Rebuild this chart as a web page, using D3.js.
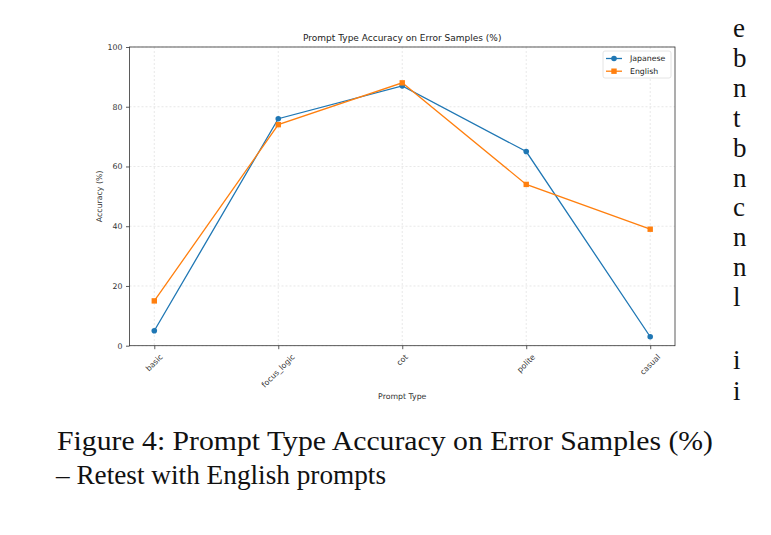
<!DOCTYPE html>
<html><head><meta charset="utf-8">
<script src="https://cdn.jsdelivr.net/npm/d3@7"></script>
<style>body{margin:0;background:#fff}svg{display:block}</style>
</head><body>
<script>
const categories = ["basic","focus_logic","cot","polite","casual"];
const japanese = [5,76,87,65,3];
const english = [15,74,88,54,39];
const yTicks = [0,20,40,60,80,100];
const seriesNames = ["Japanese","English"];
const colors = ["#1f77b4","#ff7f0e"];
const rightLetters = ["e","b","n","t","b","n","c","n","n","l","i","i"];
const rightLetterRows = [0,1,2,3,4,5,6,7,8,9,11.1,12.15];

const W=771,H=535;
const svg=d3.select("body").append("svg").attr("width",W).attr("height",H);
const L=129.5,R=675,T=47,B=345.7;
const x=d3.scaleLinear().domain([-0.2,4.2]).range([L,R]);
const y=d3.scaleLinear().domain([0,100]).range([B,T]);
const font="DejaVu Sans, sans-serif";
const grid="#d8d8d8";

// grid
svg.append("g").selectAll("line").data(categories).join("line")
 .attr("x1",(d,i)=>x(i)).attr("x2",(d,i)=>x(i)).attr("y1",T).attr("y2",B)
 .attr("stroke",grid).attr("stroke-width",0.6).attr("stroke-dasharray","2,2");
svg.append("g").selectAll("line").data(yTicks).join("line")
 .attr("x1",L).attr("x2",R).attr("y1",d=>y(d)).attr("y2",d=>y(d))
 .attr("stroke",grid).attr("stroke-width",0.6).attr("stroke-dasharray","2,2");

// axes
const ya=d3.axisLeft(y).tickValues(yTicks).tickSize(3.5).tickPadding(3.5);
const yg=svg.append("g").attr("transform",`translate(${L},0)`).call(ya);
yg.select(".domain").remove();
yg.selectAll("line").attr("stroke","#333").attr("stroke-width",0.8);
yg.selectAll("text").attr("font-family",font).attr("font-size",7.8).attr("fill","#333");

const xa=d3.axisBottom(x).tickValues(d3.range(categories.length)).tickSize(3.5).tickFormat(()=>"");
const xg=svg.append("g").attr("transform",`translate(0,${B})`).call(xa);
xg.select(".domain").remove();
xg.selectAll("line").attr("stroke","#333").attr("stroke-width",0.8);

// x labels rotated 45, centered
const fs=7.8;
categories.forEach((c,i)=>{
  const t=svg.append("text").text(c).attr("font-family",font).attr("font-size",fs).attr("fill","#333")
    .attr("text-anchor","middle").attr("dominant-baseline","central");
  const w=t.node().getComputedTextLength();
  const h=(w+fs*1.1)*Math.SQRT1_2;
  const cx=x(i), cy=B+3.5+3.5+h/2;
  t.attr("transform",`translate(${cx},${cy}) rotate(-45)`);
});

// frame
svg.append("rect").attr("x",L).attr("y",T).attr("width",R-L).attr("height",B-T)
 .attr("fill","none").attr("stroke","#333").attr("stroke-width",0.8);

// lines
const line=d3.line().x((d,i)=>x(i)).y(d=>y(d));
[japanese,english].forEach((s,k)=>{
  svg.append("path").datum(s).attr("d",line).attr("fill","none").attr("stroke",colors[k]).attr("stroke-width",1.3);
});
svg.append("g").selectAll("circle").data(japanese).join("circle")
 .attr("cx",(d,i)=>x(i)).attr("cy",d=>y(d)).attr("r",2.8).attr("fill",colors[0]);
svg.append("g").selectAll("rect").data(english).join("rect")
 .attr("x",(d,i)=>x(i)-2.7).attr("y",d=>y(d)-2.7).attr("width",5.4).attr("height",5.4).attr("fill",colors[1]);

// title & labels
svg.append("text").attr("x",(L+R)/2).attr("y",41).attr("text-anchor","middle")
 .attr("font-family",font).attr("font-size",9).attr("fill","#222").text("Prompt Type Accuracy on Error Samples (%)");
svg.append("text").attr("x",(L+R)/2).attr("y",399).attr("text-anchor","middle")
 .attr("font-family",font).attr("font-size",7.8).attr("fill","#333").text("Prompt Type");
svg.append("text").attr("transform",`translate(102,${(T+B)/2}) rotate(-90)`).attr("text-anchor","middle")
 .attr("font-family",font).attr("font-size",7.8).attr("fill","#333").text("Accuracy (%)");

// legend
const lg=svg.append("g");
lg.append("rect").attr("x",603).attr("y",51).attr("width",68).attr("height",27).attr("rx",2)
 .attr("fill","#fff").attr("stroke","#ddd").attr("stroke-width",0.8);
seriesNames.forEach((n,k)=>{
  const yy=58.5+k*12.7;
  lg.append("line").attr("x1",606).attr("x2",622).attr("y1",yy).attr("y2",yy).attr("stroke",colors[k]).attr("stroke-width",1.3);
  if(k===0) lg.append("circle").attr("cx",614).attr("cy",yy).attr("r",2.8).attr("fill",colors[k]);
  else lg.append("rect").attr("x",611.3).attr("y",yy-2.7).attr("width",5.4).attr("height",5.4).attr("fill",colors[k]);
  lg.append("text").attr("x",630).attr("y",yy).attr("dominant-baseline","central")
   .attr("font-family",font).attr("font-size",7.8).attr("fill","#222").text(n);
});

// caption
const serif="Liberation Serif, Times New Roman, serif";
svg.append("text").attr("x",57).attr("y",450).attr("font-family",serif).attr("font-size",26.5).attr("fill","#111")
 .attr("textLength",656).attr("lengthAdjust","spacingAndGlyphs")
 .text("Figure 4: Prompt Type Accuracy on Error Samples (%)");
svg.append("text").attr("x",56).attr("y",484).attr("font-family",serif).attr("font-size",26.5).attr("fill","#111")
 .attr("textLength",330).attr("lengthAdjust","spacingAndGlyphs")
 .text("– Retest with English prompts");

// right column fragments
rightLetters.forEach((c,i)=>{
  svg.append("text").attr("x",733).attr("y",37+rightLetterRows[i]*29.9).attr("font-family",serif).attr("font-size",27).attr("fill","#111").text(c);
});
</script>
</body></html>
